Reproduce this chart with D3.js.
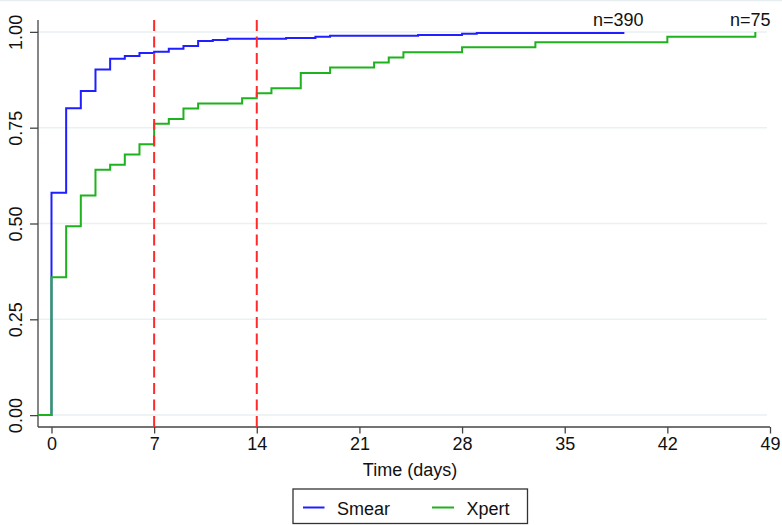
<!DOCTYPE html>
<html>
<head>
<meta charset="utf-8">
<script src="https://cdn.jsdelivr.net/npm/d3@7"></script>
<style>
  html, body { margin: 0; padding: 0; background: #fff; }
  svg { display: block; font-family: "Liberation Sans", Arial, sans-serif; }
</style>
</head>
<body>
<svg id="chart" width="782" height="525"></svg>
<script>
// ---- data ----
const smearTimes  = [0, 1, 2, 3, 4, 5, 6, 7, 8, 9, 10, 11, 12, 16, 18, 19, 25, 28, 29, 39];
const smearValues = [0.580, 0.801, 0.846, 0.902, 0.930, 0.937, 0.945, 0.948, 0.956, 0.963, 0.976, 0.979, 0.982, 0.984, 0.987, 0.990, 0.992, 0.995, 0.997, 1.000];
const xpertTimes  = [0, 1, 2, 3, 4, 5, 6, 7, 8, 9, 10, 13, 14, 15, 17, 19, 22, 23, 24, 28, 33, 42, 48];
const xpertValues = [0.360, 0.493, 0.573, 0.640, 0.653, 0.680, 0.707, 0.760, 0.773, 0.800, 0.813, 0.827, 0.840, 0.853, 0.893, 0.907, 0.920, 0.933, 0.947, 0.960, 0.973, 0.987, 1.000];
const seriesNames = ["Smear", "Xpert"];
const seriesN     = ["n=390", "n=75"];
const xTicks = [0, 7, 14, 21, 28, 35, 42, 49];
const yTicks = [0, 0.25, 0.5, 0.75, 1.0];
const refLines = [7, 14];

// ---- layout ----
const colors = { Smear: "#1f1fff", Xpert: "#1fb21f" };
const svg = d3.select("#chart");
const x = d3.scaleLinear().domain([-0.92, 49]).range([38, 770]);
const y = d3.scaleLinear().domain([-0.031, 1.031]).range([427, 20]);

// faint top border line
svg.append("line").attr("x1", 0).attr("x2", 782).attr("y1", 0.5).attr("y2", 0.5)
  .attr("stroke", "#e6eef0").attr("stroke-width", 1.5);

// gridlines
svg.append("g").selectAll("line").data(yTicks).join("line")
  .attr("x1", x.range()[0]).attr("x2", 767)
  .attr("y1", d => y(d)).attr("y2", d => y(d))
  .attr("stroke", "#e9f1f3").attr("stroke-width", 1.5);

// axes
const fmt = d3.format(".2f");
const yAxis = svg.append("g").attr("transform", `translate(${x.range()[0]},0)`)
  .call(d3.axisLeft(y).tickValues(yTicks).tickSize(8).tickFormat(fmt).tickSizeOuter(0));
yAxis.select(".domain").attr("stroke", "#444").attr("stroke-width", 1.3);
yAxis.selectAll(".tick line").attr("stroke", "#444").attr("stroke-width", 1.3);
yAxis.selectAll(".tick text")
  .attr("x", 0).attr("dy", 0)
  .attr("transform", "translate(-16.5,0) rotate(-90)")
  .attr("text-anchor", "middle")
  .attr("font-size", 18).attr("fill", "#111")
  .attr("font-family", "Liberation Sans, Arial, sans-serif");

const xAxis = svg.append("g").attr("transform", `translate(0,${y.range()[0]})`)
  .call(d3.axisBottom(x).tickValues(xTicks).tickSize(6.5).tickSizeOuter(0));
xAxis.select(".domain").attr("stroke", "#444").attr("stroke-width", 1.3);
xAxis.selectAll(".tick line").attr("stroke", "#444").attr("stroke-width", 1.3);
xAxis.selectAll(".tick text")
  .attr("y", 23).attr("dy", 0).attr("dominant-baseline", "alphabetic")
  .attr("font-size", 18).attr("fill", "#111")
  .attr("font-family", "Liberation Sans, Arial, sans-serif");
svg.selectAll(".domain").attr("fill", "none");
// y axis domain shape
yAxis.select(".domain").attr("d", `M0,${y.range()[1]}V${y.range()[0]}`);
xAxis.select(".domain").attr("d", `M${x.range()[0]},0H${x.range()[1]}`);

svg.append("text").attr("x", 410).attr("y", 475.5)
  .attr("text-anchor", "middle").attr("font-size", 18).attr("fill", "#111")
  .text("Time (days)");

// step curves
const line = d3.line().x(d => x(d[0])).y(d => y(d[1])).curve(d3.curveStepAfter);
function pts(times, vals) {
  return [[x.domain()[0], 0]].concat(times.map((t, i) => [t, vals[i]]));
}
const series = [
  { name: seriesNames[0], times: smearTimes, vals: smearValues, n: seriesN[0] },
  { name: seriesNames[1], times: xpertTimes, vals: xpertValues, n: seriesN[1] }
];
series.forEach(s => {
  svg.append("path").datum(pts(s.times, s.vals))
    .attr("d", line).attr("fill", "none")
    .attr("stroke", colors[s.name]).attr("stroke-width", 2);
});

// reference lines
svg.append("g").selectAll("line").data(refLines).join("line")
  .attr("x1", d => x(d)).attr("x2", d => x(d))
  .attr("y1", y.range()[1]).attr("y2", y.range()[0])
  .attr("stroke", "#ff2a2a").attr("stroke-width", 2)
  .attr("stroke-dasharray", "11,5.5");

// n labels
series.forEach(s => {
  const t = s.times[s.times.length - 1];
  svg.append("text").attr("x", x(t) - 5).attr("y", 26)
    .attr("text-anchor", "middle").attr("font-size", 18).attr("fill", "#111")
    .text(s.n);
});

// legend
const lg = svg.append("g");
lg.append("rect").attr("x", 293).attr("y", 489).attr("width", 234.5).attr("height", 34.5)
  .attr("fill", "#fff").attr("stroke", "#333").attr("stroke-width", 1.3);
const legendX = [[303, 324.5, 337], [432, 454, 466.5]];
series.forEach((s, i) => {
  lg.append("line").attr("x1", legendX[i][0]).attr("x2", legendX[i][1])
    .attr("y1", 507.5).attr("y2", 507.5)
    .attr("stroke", colors[s.name]).attr("stroke-width", 2);
  lg.append("text").attr("x", legendX[i][2]).attr("y", 515)
    .attr("font-size", 18).attr("fill", "#111").text(s.name);
});
</script>
</body>
</html>
